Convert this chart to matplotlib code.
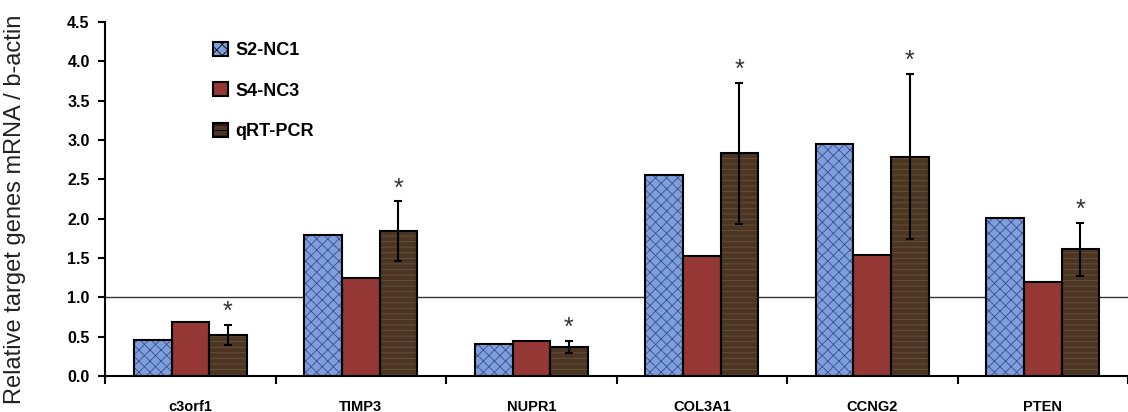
import numpy as np
import matplotlib.pyplot as plt

# data
genes = ['c3orf1', 'TIMP3', 'NUPR1', 'COL3A1', 'CCNG2', 'PTEN']
s2_nc1 = [0.46, 1.79, 0.41, 2.55, 2.95, 2.01]
s4_nc3 = [0.68, 1.24, 0.44, 1.52, 1.54, 1.20]
qrt_pcr = [0.52, 1.84, 0.37, 2.83, 2.79, 1.61]
qrt_err = [0.13, 0.38, 0.08, 0.90, 1.05, 0.34]

plt.rcParams['font.family'] = ['Liberation Sans', 'DejaVu Sans']
plt.rcParams['hatch.linewidth'] = 0.6

fig = plt.figure(figsize=(11.28, 4.12), dpi=100)
ax = fig.add_axes([0.0931, 0.0874, 0.9069, 0.8592])

x = np.arange(len(genes))
w = 0.22

series = [
    (s2_nc1, 'S2-NC1', '#7f9fdc', '#35508f', 'xxx'),
    (s4_nc3, 'S4-NC3', '#953735', '#953735', None),
    (qrt_pcr, 'qRT-PCR', '#4b3523', '#6b5238', '---'),
]

handles = []
for i, (vals, lab, fc, hc, hatch) in enumerate(series):
    pos = x + (i - 1) * w
    # fill with hatch (hatch takes the edge colour), then a black outline on top
    ax.bar(pos, vals, w, color=fc, edgecolor=hc, hatch=hatch, linewidth=0, zorder=2)
    ax.bar(pos, vals, w, facecolor='none', edgecolor='black', linewidth=1.5, zorder=3)
    handles.append(plt.Rectangle((0, 0), 1, 1, facecolor=fc, edgecolor='black',
                                 hatch=hatch, linewidth=1.5, label=lab))

ax.errorbar(x + w, qrt_pcr, yerr=qrt_err, fmt='none', ecolor='black',
            elinewidth=1.5, capsize=3, capthick=1.5, zorder=4)
for xi, v, e in zip(x + w, qrt_pcr, qrt_err):
    ax.text(xi, v + e + 0.01, '*', ha='center', va='bottom', fontsize=18,
            color='#333333', zorder=5)

ax.axhline(1.0, color='#333333', linewidth=1.0, zorder=1)

ax.set_ylim(0, 4.5)
ax.set_xlim(-0.5, 5.465)
ax.set_yticks(np.arange(0, 4.51, 0.5))
ax.set_yticklabels([f'{v:.1f}' for v in np.arange(0, 4.51, 0.5)],
                   fontweight='bold', fontsize=11.5)
ax.set_xticks(np.arange(-0.5, 6, 1.0))
ax.set_xticklabels([])
ax.set_xticks(x, minor=True)
ax.set_xticklabels(genes, minor=True, fontweight='bold', fontsize=10.5)
ax.tick_params(axis='x', which='major', direction='out', length=6, width=1.5)
ax.tick_params(axis='x', which='minor', length=0, pad=17)
ax.tick_params(axis='y', direction='out', length=5, width=1.5, pad=6)

for side in ['top', 'right']:
    ax.spines[side].set_visible(False)
for side in ['left', 'bottom']:
    ax.spines[side].set_linewidth(1.5)

ax.set_ylabel('Relative target genes mRNA / b-actin', fontsize=17, color='#222222')
ax.yaxis.set_label_coords(-0.077, 0.47)

ax.legend(handles=handles, loc='upper left', bbox_to_anchor=(0.09, 0.99),
          frameon=False, handlelength=0.8, handleheight=0.8, labelspacing=1.3,
          handletextpad=0.4, prop={'weight': 'bold', 'size': 13})

fig.savefig('out.png', dpi=100)
